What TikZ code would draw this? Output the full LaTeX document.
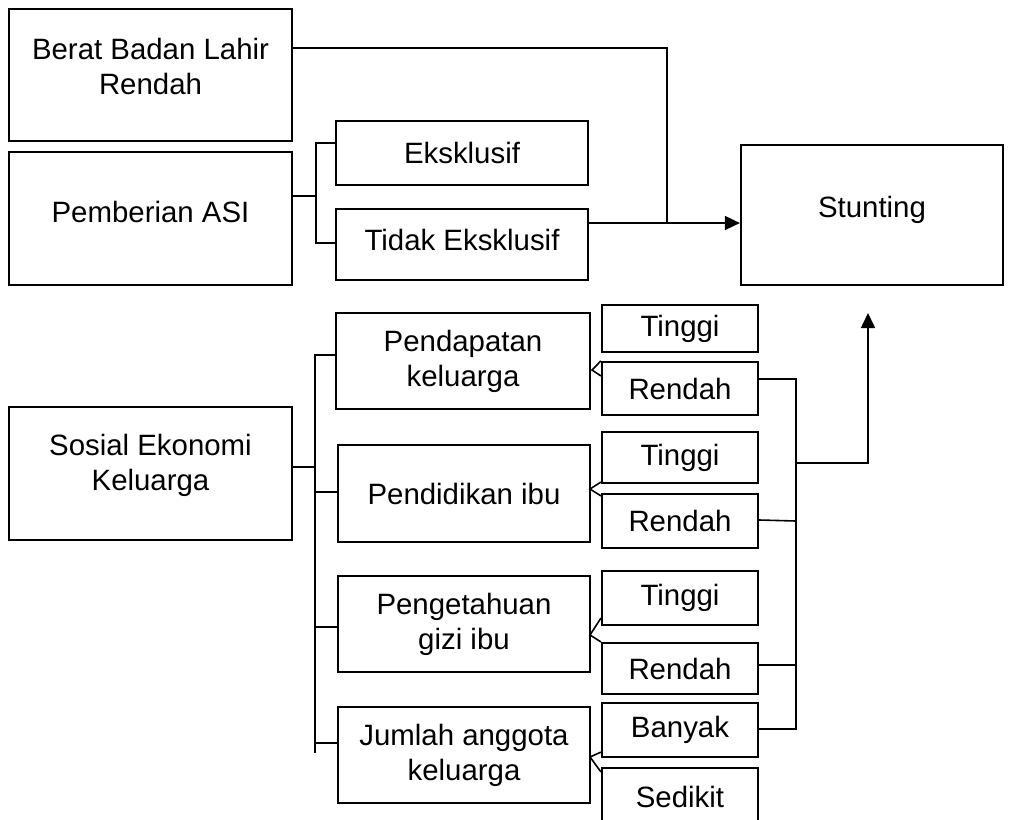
\documentclass[tikz,border=0pt]{standalone}
\usepackage{fontspec}
\setmainfont{Liberation Sans}
\usetikzlibrary{arrows.meta}
\begin{document}
\begin{tikzpicture}[x=1pt,y=-1pt,
  box/.style={draw, line width=2.2pt, align=center, inner sep=0pt,
    font=\fontsize{29.4}{35}\selectfont},
  txt/.style={align=center, inner sep=0pt, font=\fontsize{29.4}{35}\selectfont},
  conn/.style={line width=1.6pt},
  tip/.style={-{Triangle[length=15pt,width=14pt]}}]
\useasboundingbox (0,0) rectangle (1019,819);
\clip (0,0) rectangle (1019,819);
% left column
\node[box, minimum width=283pt, minimum height=132pt] (bblr) at (150.5,75) {};
\node[txt] (bblrT) at ([yshift=8.5pt]bblr.center) {Berat Badan Lahir\\Rendah};
\node[box, minimum width=283pt, minimum height=133pt] (asi) at (150.5,218.5) {};
\node[txt] (asiT) at ([yshift=6.5pt]asi.center) {Pemberian ASI};
\node[box, minimum width=283pt, minimum height=133pt] (sosek) at (150.5,473.5) {};
\node[txt] (sosekT) at ([yshift=8pt]sosek.center) {Sosial Ekonomi\\Keluarga};
% ASI children
\node[box, minimum width=252pt, minimum height=64pt] (eks) at (462,153) {Eksklusif};
\node[box, minimum width=252pt, minimum height=71pt] (teks) at (462,244.5) {};
\node[txt] (teksT) at ([yshift=4.5pt]teks.center) {Tidak Eksklusif};
% Stunting
\node[box, minimum width=262pt, minimum height=140pt] (stunt) at (872,215) {};
\node[txt] (stuntT) at ([yshift=5pt]stunt.center) {Stunting};
% sosial ekonomi children
\node[box, minimum width=254pt, minimum height=96pt] (pend) at (463,361) {Pendapatan\\keluarga};
\node[box, minimum width=252pt, minimum height=97pt] (pddk) at (464,493.5) {Pendidikan ibu};
\node[box, minimum width=252pt, minimum height=96pt] (peng) at (464,624) {Pengetahuan\\gizi ibu};
\node[box, minimum width=252pt, minimum height=96pt] (jml) at (464,755) {Jumlah anggota\\keluarga};
% categories
\node[box, minimum width=156pt, minimum height=47pt] (t1) at (680,328.5) {Tinggi};
\node[box, minimum width=156pt, minimum height=53pt] (r1) at (680,388.5) {Rendah};
\node[box, minimum width=156pt, minimum height=51pt] (t2) at (680,457.5) {Tinggi};
\node[box, minimum width=156pt, minimum height=54pt] (r2) at (680,521) {Rendah};
\node[box, minimum width=156pt, minimum height=54pt] (t3) at (680,598) {Tinggi};
\node[box, minimum width=156pt, minimum height=51pt] (r3) at (680,668.5) {Rendah};
\node[box, minimum width=156pt, minimum height=54pt] (bny) at (680,730) {Banyak};
\node[box, minimum width=156pt, minimum height=62pt] (sdk) at (680,799) {};
\node[txt] (sdkT) at ([yshift=2pt]sdk.center) {Sedikit};
% coordinates
\coordinate (j1) at (667,223);
\coordinate (b1) at (316,196);
\coordinate (b2) at (315,467);
\coordinate (btop) at (315,355);
\coordinate (bbot) at (315,753);
\coordinate (rtop) at (796,379);
\coordinate (rbot) at (796,729);
\coordinate (rb) at (796,463);
\coordinate (up) at (868,313);
\coordinate (tp1) at (592,370);
\coordinate (tp2) at (590,489);
\coordinate (tp3) at (590,635);
\coordinate (tp4) at (590,757);
% upper connections
\draw[conn] ([yshift=-40pt]bblr.north east) -| (j1);
\draw[conn, tip] ([yshift=21.5pt]teks.east) -- ([yshift=-8pt]stunt.west);
\draw[conn] ([yshift=22.5pt]asi.east) -- (b1);
\draw[conn] ([yshift=10pt]eks.west) -| (b1) |- ([yshift=1.5pt]teks.west);
% sosial ekonomi bracket
\draw[conn] ([yshift=6.5pt]sosek.east) -- (b2);
\draw[conn] ([yshift=6pt]pend.west) -- (btop) -- (bbot);
\draw[conn] ([yshift=1.5pt]pddk.west) -- ++(-23,0);
\draw[conn] ([yshift=-3pt]peng.west) -- ++(-23,0);
\draw[conn] ([yshift=12pt]jml.west) -- ++(-23,0);
% small forks
\draw[conn] (r1.north west) -- (tp1) -- ([yshift=-15pt]r1.north west);
\draw[conn] ([yshift=2pt]t2.south west) -- (tp2) -- ([yshift=-3pt]r2.north west);
\draw[conn] ([yshift=8pt]t3.south west) -- (tp3) -- (r3.north west);
\draw[conn] ([yshift=6pt]bny.south west) -- (tp4) -- ([yshift=-5pt]sdk.north west);
% right bracket
\draw[conn] ([yshift=9.5pt]r1.east) -- (rtop) -- (rbot) -- ([yshift=1pt]bny.east);
\draw[conn] ([yshift=1pt]r2.east) -- (r2.east -| rtop);
\draw[conn] ([yshift=3.5pt]r3.east) -- ([yshift=3.5pt]r3.east -| rtop);
\draw[conn, tip] (rb) -| (up);
\end{tikzpicture}
\end{document}
